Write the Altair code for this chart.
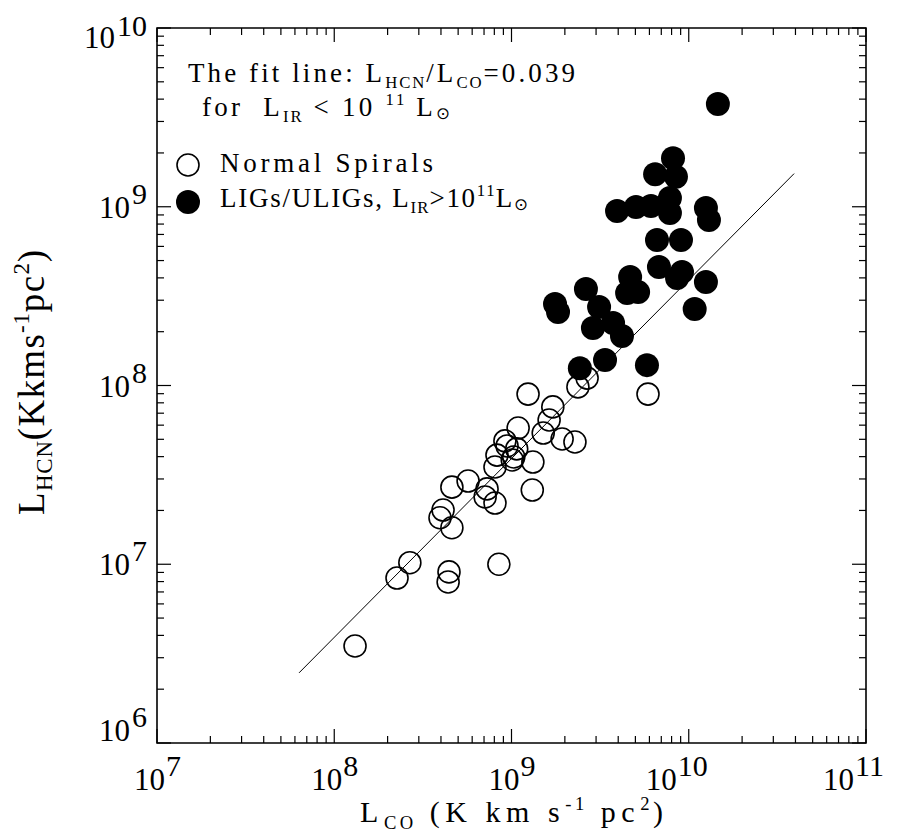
import math
import altair as alt
import pandas as pd

# ---------------- data ----------------
normal_lco = [1.31e8, 2.26e8, 2.67e8, 4.44e8, 4.39e8, 8.49e8, 3.95e8, 4.11e8, 4.61e8,
              4.61e8, 5.69e8, 7.28e8, 7.10e8, 8.07e8, 8.07e8, 1.01e9, 9.18e8, 9.44e8,
              1.07e9, 8.28e8, 1.03e9, 1.09e9, 1.32e9, 1.31e9, 1.51e9, 1.63e9, 1.71e9,
              1.93e9, 2.28e9, 1.24e9, 2.37e9, 2.67e9, 5.89e9]
normal_lhcn = [3.49e6, 8.37e6, 1.02e7, 9.06e6, 7.96e6, 1.00e7, 1.82e7, 2.01e7, 1.60e7,
               2.70e7, 2.92e7, 2.64e7, 2.38e7, 2.20e7, 3.50e7, 3.83e7, 4.90e7, 4.59e7,
               4.42e7, 4.08e7, 3.98e7, 5.78e7, 3.73e7, 2.60e7, 5.42e7, 6.41e7, 7.59e7,
               5.02e7, 4.83e7, 8.95e7, 9.82e7, 1.10e8, 8.95e7]
lig_lco = [1.46e10, 8.15e9, 6.46e9, 8.47e9, 3.94e9, 5.04e9, 6.12e9, 7.83e9, 7.83e9,
           1.25e10, 1.30e10, 6.62e9, 9.04e9, 6.79e9, 9.16e9, 8.59e9, 1.25e10, 1.08e10,
           4.67e9, 4.49e9, 5.18e9, 2.63e9, 1.76e9, 1.83e9, 3.12e9, 2.88e9, 3.74e9,
           4.20e9, 3.37e9, 2.43e9, 5.81e9]
lig_lhcn = [3.76e9, 1.87e9, 1.52e9, 1.47e9, 9.46e8, 9.98e8, 1.01e9, 1.12e9, 9.23e8,
            9.84e8, 8.43e8, 6.52e8, 6.52e8, 4.60e8, 4.32e8, 3.99e8, 3.79e8, 2.68e8,
            4.05e8, 3.29e8, 3.33e8, 3.47e8, 2.86e8, 2.58e8, 2.75e8, 2.10e8, 2.24e8,
            1.89e8, 1.39e8, 1.25e8, 1.30e8]
fit_ratio = 0.039
fit_lco = [6.33e7, 3.93e10]
x_decades = [1e7, 1e8, 1e9, 1e10, 1e11]
y_decades = [1e6, 1e7, 1e8, 1e9, 1e10]
minor_mult = [2, 3, 4, 5, 6, 7, 8, 9]

W, H = 709, 715
xs = alt.Scale(type="log", domain=[1e7, 1e11], nice=False)
ys = alt.Scale(type="log", domain=[1e6, 1e10], nice=False)

# ---------------- rich-text layout helper ----------------
CW = {' ': 250, '(': 333, ')': 333, ',': 250, '-': 333, '.': 250, '/': 278, ':': 278,
      '<': 564, '=': 564, '>': 564, 'C': 667, 'G': 722, 'H': 722, 'I': 333, 'K': 722,
      'L': 611, 'N': 722, 'O': 722, 'R': 667, 'S': 556, 'T': 611, 'U': 722, 'a': 444,
      'c': 444, 'e': 444, 'f': 333, 'h': 500, 'i': 278, 'k': 500, 'l': 278, 'm': 778,
      'n': 500, 'o': 500, 'p': 500, 'r': 333, 's': 389, 't': 278, '\u2299': 838}
for d in '0123456789':
    CW[d] = 500
SCALE = {'n': 1.0, 'sub': 0.62, 'sup': 0.62, 'sun': 0.62}
SHIFT = {'n': 0.0, 'sub': 0.22, 'sup': -0.40, 'sun': 0.10}


def layout(segs, size, start, end):
    items = [(c, k) for text, k in segs for c in text]
    natural = sum(CW[c] * size * SCALE[k] / 1000 for c, k in items)
    weights = [SCALE[k] for c, k in items[:-1]]
    track = (end - start - natural) / sum(weights)
    recs, pos = [], start
    for c, k in items:
        fs = size * SCALE[k]
        if c != ' ':
            recs.append(dict(ch=c, along=pos, off=SHIFT[k] * size, fs=fs,
                             font='sun' if c == '\u2299' else 'serif'))
        pos += CW[c] * fs / 1000 + track * SCALE[k]
    return recs


def horiz(segs, size, x0, x1, base):
    out = []
    for r in layout(segs, size, x0, x1):
        out.append(dict(ch=r['ch'], x=r['along'], y=base + r['off'], fs=r['fs'], font=r['font']))
    return out


SUN = '\u2299'
TXT = 27
text_rows = []
text_rows += horiz([("The fit line: L", 'n'), ("HCN", 'sub'), ("/L", 'n'), ("CO", 'sub'),
                    ("=0.039", 'n')], TXT, 31, 418, 54)
text_rows += horiz([("for  L", 'n'), ("IR", 'sub'), (" < 10 ", 'n'), ("11", 'sup'),
                    (" L", 'n'), (SUN, 'sun')], TXT, 45, 293, 88)
text_rows += horiz([("Normal Spirals", 'n')], TXT, 63, 276, 144)
text_rows += horiz([("LIGs/ULIGs, L", 'n'), ("IR", 'sub'), (">10", 'n'), ("11", 'sup'),
                    ("L", 'n'), (SUN, 'sun')], TXT, 63, 371, 179)
text_rows += horiz([("L", 'n'), ("CO", 'sub'), (" (K km s", 'n'), ("-1", 'sup'),
                    (" pc", 'n'), ("2", 'sup'), (")", 'n')], 30, 203, 506, 794)
text_df = pd.DataFrame(text_rows)

vrows = []
for r in layout([("L", 'n'), ("HCN", 'sub'), ("(Kkms", 'n'), ("-1", 'sup'), ("pc", 'n'),
                 ("2", 'sup'), (")", 'n')], 37, 0, 265):
    vrows.append(dict(ch=r['ch'], x=-113 + r['off'], y=487 - r['along'], fs=r['fs']))
vtext_df = pd.DataFrame(vrows)


def text_layer(df, font, angle=0):
    return alt.Chart(df).mark_text(align="left", baseline="alphabetic", font=font,
                                   color="black", angle=angle).encode(
        x=alt.X("x:Q", scale=None, axis=None),
        y=alt.Y("y:Q", scale=None, axis=None),
        size=alt.Size("fs:Q", scale=None, legend=None),
        text="ch:N")


serif_layer = text_layer(text_df[text_df.font == 'serif'], "Liberation Serif")
sun_layer = text_layer(text_df[text_df.font == 'sun'], "DejaVu Sans")
ytitle_layer = text_layer(vtext_df, "Liberation Serif", angle=270)

# ---------------- tick marks (inward, all four sides) ----------------
xmaj = pd.DataFrame({"v": x_decades})
xmin = pd.DataFrame({"v": [m * d for d in x_decades[:-1] for m in minor_mult]})
ymaj = pd.DataFrame({"v": y_decades})
ymin = pd.DataFrame({"v": [m * d for d in y_decades[:-1] for m in minor_mult]})


def xticks(df, length):
    bot = alt.Chart(df).mark_rule(color="black", strokeWidth=1.2).encode(
        x=alt.X("v:Q", scale=xs, axis=None), y=alt.value(H), y2=alt.value(H - length))
    top = alt.Chart(df).mark_rule(color="black", strokeWidth=1.2).encode(
        x=alt.X("v:Q", scale=xs, axis=None), y=alt.value(0), y2=alt.value(length))
    return [bot, top]


def yticks(df, length):
    left = alt.Chart(df).mark_rule(color="black", strokeWidth=1.2).encode(
        y=alt.Y("v:Q", scale=ys, axis=None), x=alt.value(0), x2=alt.value(length))
    right = alt.Chart(df).mark_rule(color="black", strokeWidth=1.2).encode(
        y=alt.Y("v:Q", scale=ys, axis=None), x=alt.value(W), x2=alt.value(W - length))
    return [left, right]


tick_layers = xticks(xmaj, 14) + xticks(xmin, 7) + yticks(ymaj, 14) + yticks(ymin, 7)

# ---------------- tick labels 10^n ----------------
def exp_df(vals):
    return pd.DataFrame({"v": vals, "base": ["10"] * len(vals),
                         "e": [str(int(round(math.log10(v)))) for v in vals]})


xl1 = exp_df([v for v in x_decades if v < 1e10])
xl2 = exp_df([v for v in x_decades if v >= 1e10])
TF, EF = 31, 30


def xlab(df, dxb):
    b = alt.Chart(df).mark_text(font="Liberation Serif", fontSize=TF, align="right",
                                baseline="alphabetic", dx=dxb, color="black").encode(
        x=alt.X("v:Q", scale=xs, axis=None), y=alt.value(762), text="base:N")
    e = alt.Chart(df).mark_text(font="Liberation Serif", fontSize=EF, align="left",
                                baseline="alphabetic", dx=dxb + 1, color="black").encode(
        x=alt.X("v:Q", scale=xs, axis=None), y=alt.value(748), text="e:N")
    return [b, e]


yl_mid = exp_df([v for v in y_decades if 1e6 < v < 1e10])
yl_top = exp_df([y_decades[-1]])
yl_bot = exp_df([y_decades[0]])


def ylab(df, xb, dyb, dye):
    b = alt.Chart(df).mark_text(font="Liberation Serif", fontSize=TF, align="right",
                                baseline="alphabetic", dy=dyb, color="black").encode(
        y=alt.Y("v:Q", scale=ys, axis=None), x=alt.value(xb), text="base:N")
    e = alt.Chart(df).mark_text(font="Liberation Serif", fontSize=EF, align="right",
                                baseline="alphabetic", dy=dye, color="black").encode(
        y=alt.Y("v:Q", scale=ys, axis=None), x=alt.value(-10), text="e:N")
    return [b, e]


label_layers = (xlab(xl1, 8) + xlab(xl2, -12) + ylab(yl_mid, -27, 11, -3)
                + ylab(yl_top, -42, 20, 8) + ylab(yl_bot, -27, -2, -16))

# ---------------- data marks ----------------
fit_df = pd.DataFrame({"lco": fit_lco, "lhcn": [fit_ratio * v for v in fit_lco]})
fit = alt.Chart(fit_df).mark_line(color="black", strokeWidth=1).encode(
    x=alt.X("lco:Q", scale=xs, axis=None), y=alt.Y("lhcn:Q", scale=ys, axis=None))

lig_df = pd.DataFrame({"lco": lig_lco, "lhcn": lig_lhcn})
lig = alt.Chart(lig_df).mark_circle(size=576, color="black", opacity=1).encode(
    x=alt.X("lco:Q", scale=xs, axis=None), y=alt.Y("lhcn:Q", scale=ys, axis=None))

nor_df = pd.DataFrame({"lco": normal_lco, "lhcn": normal_lhcn})
nor = alt.Chart(nor_df).mark_point(shape="circle", filled=False, size=484, color="black",
                                   strokeWidth=1.6, opacity=1).encode(
    x=alt.X("lco:Q", scale=xs, axis=None), y=alt.Y("lhcn:Q", scale=ys, axis=None))

one = pd.DataFrame({"k": [0]})
leg_open = alt.Chart(one).mark_point(shape="circle", filled=False, size=484, color="black",
                                     strokeWidth=1.6, opacity=1).encode(
    x=alt.value(31), y=alt.value(137))
leg_fill = alt.Chart(one).mark_circle(size=576, color="black", opacity=1).encode(
    x=alt.value(31), y=alt.value(174))

layers = ([fit, lig, nor] + tick_layers + label_layers
          + [leg_open, leg_fill, serif_layer, sun_layer, ytitle_layer])

chart = alt.layer(*layers).resolve_scale(
    x="independent", y="independent", size="independent"
).properties(
    width=W, height=H,
    autosize=alt.AutoSizeParams(type="none"),
    padding={"left": 149, "top": 20, "right": 20, "bottom": 100},
    background="white",
).configure_view(stroke="black", strokeWidth=1.6)

chart.save("out.html", embed_options={"renderer": "svg", "actions": False})
